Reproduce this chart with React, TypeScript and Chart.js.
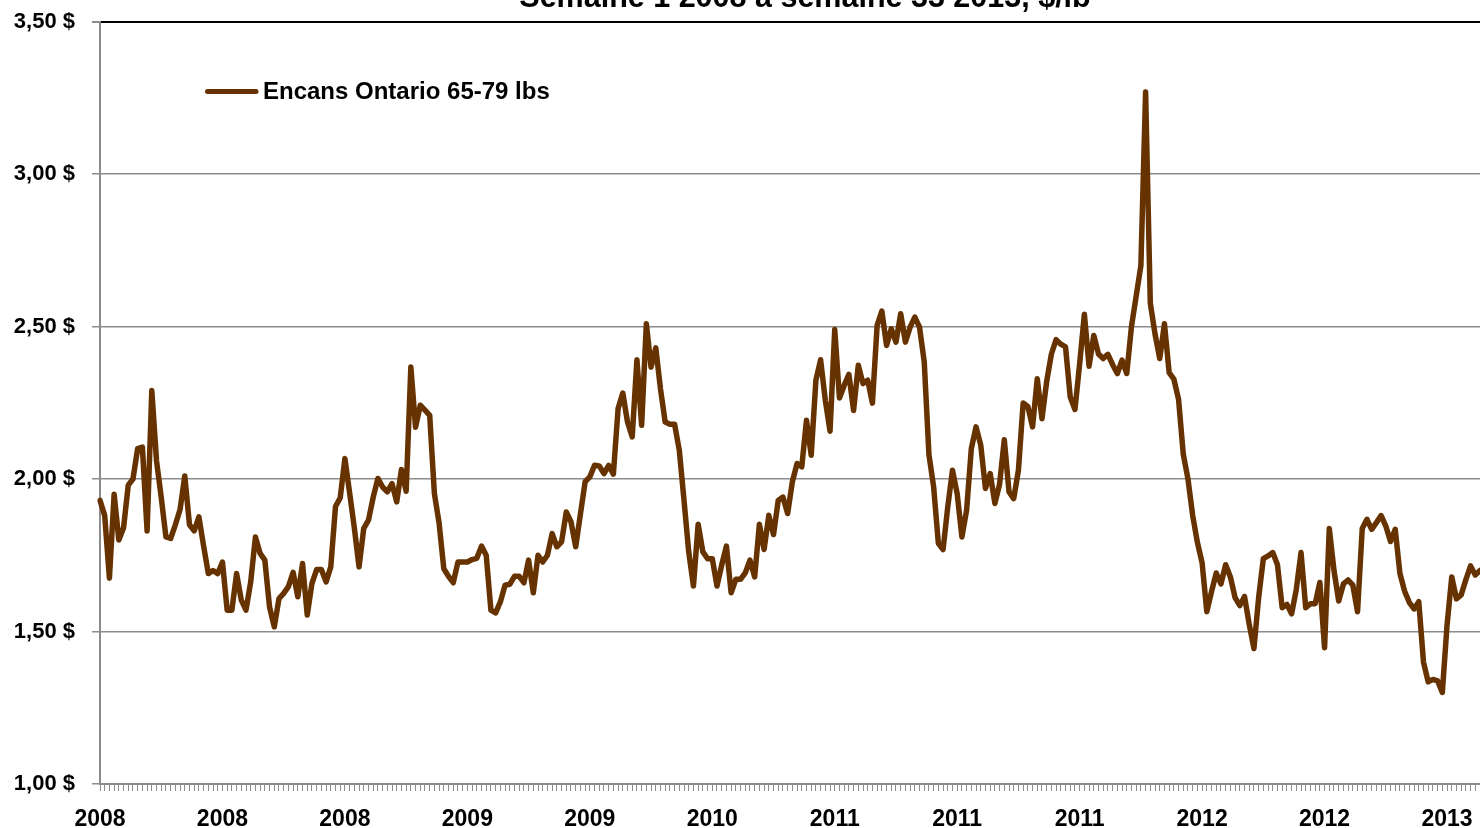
import React, { useEffect, useRef } from 'react';
import { Chart, registerables } from 'chart.js';

Chart.register(...registerables);

const TITLE = 'Semaine 1 2008 à semaine 33 2013, $/lb';
const SERIES_LABEL = 'Encans Ontario 65-79 lbs';
const LINE_COLOR = '#663300';
const FONT = '"Liberation Sans", Arial, sans-serif';

// Year tick labels shown every 26 weeks
const xTickLabels = ['2008', '2008', '2008', '2009', '2009', '2010', '2011', '2011', '2011', '2012', '2012', '2013'];
const LABEL_EVERY = 26;

const yTickValues = [1.0, 1.5, 2.0, 2.5, 3.0, 3.5];
const yTickLabels = ['1,00 $', '1,50 $', '2,00 $', '2,50 $', '3,00 $', '3,50 $'];

// Weekly prices, $/lb
const prices1 = [
  1.93, 1.88, 1.675, 1.95, 1.80, 1.84, 1.98, 2.00, 2.10, 2.105, 1.83, 2.29, 2.06, 1.94, 1.81, 1.805,
  1.85, 1.90, 2.01, 1.85, 1.83, 1.876, 1.78, 1.69, 1.70, 1.69, 1.728, 1.57, 1.57, 1.69, 1.603, 1.57,
  1.663, 1.81, 1.756, 1.734, 1.58, 1.515, 1.608, 1.625, 1.647, 1.694, 1.614, 1.723, 1.554, 1.658, 1.703, 1.703,
  1.663, 1.712, 1.91, 1.938,
];
const prices2 = [
  2.067, 1.955, 1.84, 1.712, 1.838, 1.865, 1.94, 2.002, 1.974, 1.958, 1.985, 1.925, 2.031, 1.96, 2.367, 2.17,
  2.242, 2.226, 2.209, 1.952, 1.855, 1.706, 1.681, 1.66, 1.728, 1.728, 1.728, 1.736, 1.74, 1.78, 1.75, 1.57,
  1.561, 1.597, 1.652, 1.655, 1.681, 1.681, 1.66, 1.734, 1.627, 1.75, 1.728, 1.75, 1.821, 1.778, 1.794, 1.892,
  1.86, 1.778, 1.885, 1.991,
];
const prices3 = [
  2.007, 2.045, 2.043, 2.018, 2.045, 2.016, 2.231, 2.282, 2.187, 2.138, 2.391, 2.176, 2.509, 2.367, 2.43, 2.296,
  2.187, 2.18, 2.18, 2.094, 1.93, 1.761, 1.649, 1.852, 1.761, 1.739, 1.739, 1.649, 1.718, 1.78, 1.627, 1.671,
  1.671, 1.692, 1.734, 1.679, 1.852, 1.769, 1.881, 1.818, 1.93, 1.941, 1.887, 1.991, 2.051, 2.04, 2.193, 2.078,
  2.324, 2.391, 2.258, 2.157,
];
const prices4 = [
  2.49, 2.266, 2.307, 2.343, 2.225, 2.373, 2.313, 2.324, 2.249, 2.504, 2.551, 2.438, 2.493, 2.449, 2.542, 2.449,
  2.498, 2.531, 2.498, 2.384, 2.08, 1.974, 1.789, 1.769, 1.909, 2.029, 1.952, 1.81, 1.898, 2.10, 2.171, 2.111,
  1.969, 2.018, 1.92, 1.983, 2.129, 1.958, 1.936, 2.029, 2.249, 2.238, 2.171, 2.329, 2.198, 2.32, 2.41, 2.457,
  2.442, 2.433, 2.269, 2.228,
];
const prices5 = [
  2.378, 2.54, 2.37, 2.471, 2.41, 2.395, 2.409, 2.375, 2.346, 2.39, 2.346, 2.50, 2.60, 2.70, 3.269, 2.577,
  2.476, 2.395, 2.509, 2.349, 2.328, 2.261, 2.081, 2.00, 1.88, 1.792, 1.725, 1.565, 1.631, 1.692, 1.656, 1.719,
  1.679, 1.611, 1.585, 1.615, 1.524, 1.444, 1.611, 1.739, 1.748, 1.759, 1.719, 1.578, 1.589, 1.558, 1.638, 1.759,
  1.578, 1.591, 1.591, 1.661,
];
const prices6 = [
  1.447, 1.838, 1.70, 1.60, 1.656, 1.669, 1.652, 1.565, 1.838, 1.868, 1.835, 1.857, 1.88, 1.846, 1.795, 1.835,
  1.69, 1.632, 1.595, 1.574, 1.598, 1.40, 1.335, 1.343, 1.338, 1.30, 1.52, 1.679, 1.607, 1.62, 1.67, 1.715,
  1.685, 1.70,
];

const prices = [...prices1, ...prices2, ...prices3, ...prices4, ...prices5, ...prices6];
const weeks = prices.map((_, i) => `S${i + 1}`);

const insideLegend = {
  id: 'insideLegend',
  afterDraw(chart: any) {
    const { ctx, chartArea } = chart;
    const ds = chart.data.datasets[0];
    const y = chartArea.top + 70;
    const x0 = chartArea.left + 105;
    ctx.save();
    ctx.strokeStyle = ds.borderColor;
    ctx.lineWidth = 5;
    ctx.lineCap = 'round';
    ctx.beginPath();
    ctx.moveTo(x0 + 2.5, y);
    ctx.lineTo(x0 + 51, y);
    ctx.stroke();
    ctx.font = `bold 24px ${FONT}`;
    ctx.fillStyle = '#000';
    ctx.textBaseline = 'middle';
    ctx.textAlign = 'left';
    ctx.fillText(ds.label, x0 + 58, y + 1);
    ctx.restore();
  },
};

const CANVAS_W = 1610;
const CANVAS_H = 858;

export default function App() {
  const ref = useRef<HTMLCanvasElement | null>(null);

  useEffect(() => {
    if (!ref.current) return;
    const chart = new Chart(ref.current, {
      type: 'line',
      data: {
        labels: weeks,
        datasets: [
          {
            label: SERIES_LABEL,
            data: prices,
            borderColor: LINE_COLOR,
            backgroundColor: LINE_COLOR,
            borderWidth: 5.5,
            pointRadius: 0,
            tension: 0,
            borderJoinStyle: 'round',
            borderCapStyle: 'round',
          },
        ],
      },
      options: {
        animation: false,
        responsive: false,
        devicePixelRatio: 1,
        layout: { padding: { top: 10, left: 0, right: 0, bottom: 0 } },
        plugins: {
          legend: { display: false },
          tooltip: { enabled: false },
          title: {
            display: true,
            text: TITLE,
            color: '#000',
            font: { family: FONT, size: 30.5, weight: 'bold' },
            padding: { top: 0, bottom: 5 },
          },
        },
        scales: {
          x: {
            type: 'category',
            offset: false,
            afterFit: (s: any) => {
              s.height = 44;
              s.paddingLeft = 0;
              s.paddingRight = 130;
            },
            border: { display: true, color: '#8c8c8c', width: 2 },
            grid: {
              display: true,
              drawOnChartArea: false,
              drawTicks: true,
              tickLength: 7,
              color: '#8c8c8c',
              lineWidth: 1,
              offset: false,
            },
            ticks: {
              autoSkip: false,
              maxRotation: 0,
              minRotation: 0,
              padding: 15,
              color: '#000',
              font: { family: FONT, size: 23, weight: 'bold' },
              callback: (_v: any, i: number) =>
                i % LABEL_EVERY === 0 ? xTickLabels[i / LABEL_EVERY] ?? '' : '',
            },
          },
          y: {
            min: 1,
            max: 3.5,
            afterFit: (s: any) => {
              s.width = 100;
            },
            afterBuildTicks: (s: any) => {
              s.ticks = yTickValues.map((v) => ({ value: v }));
            },
            border: { display: true, color: '#8c8c8c', width: 2 },
            grid: {
              color: (c: any) => (c.tick && c.tick.value === 3.5 ? '#000' : '#8c8c8c'),
              lineWidth: (c: any) => (c.tick && c.tick.value === 3.5 ? 2 : 1.5),
              tickColor: '#8c8c8c',
              tickLength: 8,
              drawTicks: true,
            },
            ticks: {
              padding: 17,
              color: '#000',
              font: { family: FONT, size: 22, weight: 'bold' },
              callback: (v: any) => {
                const k = yTickValues.indexOf(Number(v));
                return k >= 0 ? yTickLabels[k] : '';
              },
            },
          },
        },
      },
      plugins: [insideLegend],
    });
    return () => chart.destroy();
  }, []);

  return (
    <div
      style={{
        position: 'fixed',
        left: 0,
        top: 0,
        width: 1480,
        height: 828,
        overflow: 'hidden',
        background: '#fff',
      }}
    >
      <canvas
        ref={ref}
        width={CANVAS_W}
        height={CANVAS_H}
        style={{ position: 'absolute', left: 0, top: -30, width: CANVAS_W, height: CANVAS_H }}
      />
    </div>
  );
}
